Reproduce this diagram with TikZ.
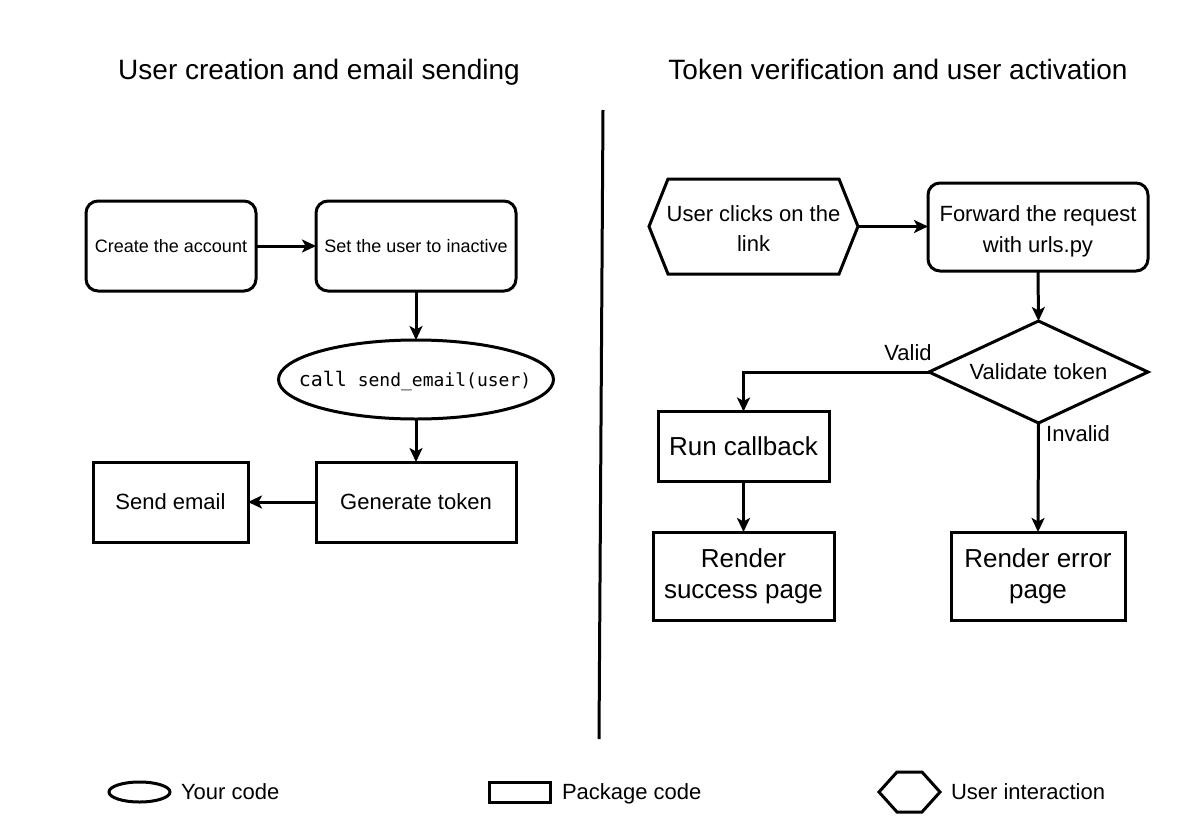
\documentclass[tikz,border=0pt]{standalone}
\usepackage{fontspec}
\setmainfont{Liberation Sans}
\setmonofont{DejaVu Sans Mono}
\usetikzlibrary{arrows.meta,positioning,shapes.geometric}
\begin{document}
\begin{tikzpicture}[x=1pt,y=-1pt,
  every node/.style={inner sep=0pt,outer sep=0pt},
  lw/.style={line width=3pt},
  arr/.style={lw,-{Stealth[length=14pt,width=13pt,inset=3.5pt]}},
  rbox/.style={lw,draw,rectangle,rounded corners=12pt,align=center},
  pbox/.style={lw,draw,rectangle,align=center},
  shapebox/.style={rectangle,align=center},
  ttl/.style={font=\fontsize{28}{34}\selectfont,anchor=base},
  lbl/.style={font=\fontsize{22}{26}\selectfont}
]
\useasboundingbox (0,0) rectangle (1195,825);
\fill[white] (0,0) rectangle (1195,825);

% titles
\node[ttl] (t1) at (319,79.5) {User creation and email sending};
\node[ttl] (t2) at (898,79.5) {Token verification and user activation};

% divider
\coordinate (d1) at (603,110);
\coordinate (d2) at (599,739);
\draw[lw] (d1) -- (d2);

% left side
\node[rbox,minimum width=170pt,minimum height=90pt,font=\fontsize{18}{22}\selectfont] (create) at (171,246) {Create the account};
\node[rbox,minimum width=200pt,minimum height=90pt,font=\fontsize{18}{22}\selectfont] (inactive) at (416,246) {Set the user to inactive};
\node[lw,draw,ellipse,minimum width=275pt,minimum height=79pt] (call) at (416,379.5) {};
\node (calltext) at (415,381) {\ttfamily{\fontsize{20}{24}\selectfont call}{\fontsize{18}{22}\selectfont\ send\_email(user)}};
\node[pbox,minimum width=200pt,minimum height=80pt,font=\fontsize{22}{26}\selectfont] (gen) at (416,502) {Generate token};
\node[pbox,minimum width=155pt,minimum height=80pt,font=\fontsize{22}{26}\selectfont] (send) at (170.5,502) {Send email};

\draw[arr] (create.east) -- (inactive.west);
\draw[arr] (inactive.south) -- (call.north);
\draw[arr] (call.south) -- (gen.north);
\draw[arr] (gen.west) -- (send.east);

% right side
\node[shapebox,minimum width=209pt,minimum height=95pt] (hex) at (753.5,226.5) {};
\draw[lw,line join=miter] (hex.west) -- ([xshift=19pt]hex.north west) -- ([xshift=-19pt]hex.north east) -- (hex.east) -- ([xshift=-19pt]hex.south east) -- ([xshift=19pt]hex.south west) -- cycle;
\node[align=center,font=\fontsize{22}{30}\selectfont] (hextext) at (753.5,229) {User clicks on the\\link};
\node[rbox,minimum width=220pt,minimum height=88pt] (fwd) at (1038,227) {};
\node[align=center,font=\fontsize{22}{31}\selectfont] (fwdtext) at (1038,231) {Forward the request\\with urls.py};
\node[shapebox,minimum width=219pt,minimum height=102pt,font=\fontsize{22}{26}\selectfont] (val) at (1038.5,372) {Validate token};
\draw[lw,line join=miter] (val.west) -- (val.north) -- (val.east) -- (val.south) -- cycle;
\node[pbox,minimum width=171pt,minimum height=70pt,font=\fontsize{26}{31}\selectfont] (run) at (743.5,446.5) {Run callback};
\node[pbox,minimum width=181pt,minimum height=88pt,font=\fontsize{26}{31}\selectfont] (succ) at (743.5,576) {Render\\success page};
\node[pbox,minimum width=174pt,minimum height=88pt,font=\fontsize{26}{31}\selectfont] (err) at (1038,576) {Render error\\page};

\draw[arr] (hex.east) -- (fwd.west |- hex.east);
\draw[arr] (fwd.south) -- (val.north);
\draw[arr] (val.west) -| (run.north);
\draw[arr] (val.south) -- (err.north);
\draw[arr] (run.south) -- (succ.north);

\node[lbl] (lvalid) at (908,353) {Valid};
\node[lbl] (linvalid) at (1078,434) {Invalid};

% legend
\node[lw,draw,ellipse,minimum width=61pt,minimum height=20pt] (lg1) at (139.5,792) {};
\node[lbl,anchor=base west] (lg1t) at (181,799.5) {Your code};
\node[lw,draw,rectangle,minimum width=61pt,minimum height=20pt] (lg2) at (519.5,792) {};
\node[lbl,anchor=base west] (lg2t) at (562,799.5) {Package code};
\node[shapebox,minimum width=61pt,minimum height=40pt] (lg3) at (909.5,792) {};
\draw[lw,line join=miter] (lg3.west) -- ([xshift=18pt]lg3.north west) -- ([xshift=-18pt]lg3.north east) -- (lg3.east) -- ([xshift=-18pt]lg3.south east) -- ([xshift=18pt]lg3.south west) -- cycle;
\node[lbl,anchor=base west] (lg3t) at (951,799.5) {User interaction};
\end{tikzpicture}
\end{document}
